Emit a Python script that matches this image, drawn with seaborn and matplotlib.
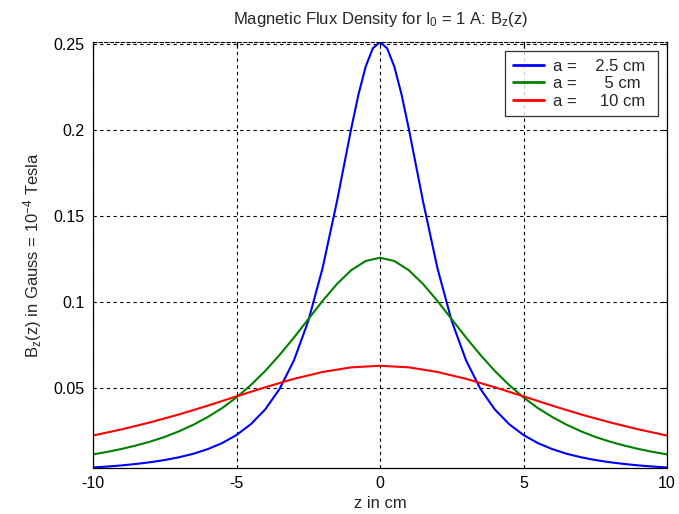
import matplotlib
matplotlib.use('Agg')
import matplotlib.pyplot as plt
import pandas as pd
import seaborn as sns

# Values (B_z in Gauss vs z in cm)
z_small = [-10, -9.5, -9, -8.5, -8, -7.5, -7, -6.5, -6, -5.5, -5, -4.5, -4, -3.5, -3, -2.5, -2,
           -1.5, -1.25, -1, -0.75, -0.5, -0.25, 0, 0.25, 0.5, 0.75, 1, 1.25, 1.5,
           2, 2.5, 3, 3.5, 4, 4.5, 5, 5.5, 6, 6.5, 7, 7.5, 8, 8.5, 9, 9.5, 10]
b_small = [0.00359, 0.00414, 0.00482, 0.00565, 0.00667, 0.00795, 0.00956, 0.0116, 0.0143, 0.0178,
           0.0225, 0.0288, 0.0374, 0.0493, 0.0659, 0.0888, 0.1197,
           0.1585, 0.1798, 0.2011, 0.2208, 0.2369, 0.2476, 0.2513, 0.2476, 0.2369, 0.2208, 0.2011, 0.1798, 0.1585,
           0.1197, 0.0888, 0.0659, 0.0493, 0.0374, 0.0288, 0.0225, 0.0178, 0.0143, 0.0116, 0.00956,
           0.00795, 0.00667, 0.00565, 0.00482, 0.00414, 0.00359]

z_mid = [-10, -9.5, -9, -8.5, -8, -7.5, -7, -6.5, -6, -5.5, -5, -4.5, -4, -3.5, -3, -2.5, -2, -1.5, -1, -0.5,
         0, 0.5, 1, 1.5, 2, 2.5, 3, 3.5, 4, 4.5, 5, 5.5, 6, 6.5, 7, 7.5, 8, 8.5, 9, 9.5, 10]
b_mid = [0.0112, 0.0127, 0.0144, 0.0164, 0.0187, 0.0214, 0.0247, 0.0285, 0.0330, 0.0382, 0.0444, 0.0516,
         0.0598, 0.0691, 0.0792, 0.0899, 0.1006, 0.1104, 0.1185, 0.1238,
         0.1257, 0.1238, 0.1185, 0.1104, 0.1006, 0.0899, 0.0792, 0.0691, 0.0598, 0.0516, 0.0444, 0.0382,
         0.0330, 0.0285, 0.0247, 0.0214, 0.0187, 0.0164, 0.0144, 0.0127, 0.0112]

z_big = [-10, -9, -8, -7, -6, -5, -4, -3, -2, -1, 0, 1, 2, 3, 4, 5, 6, 7, 8, 9, 10]
b_big = [0.0222, 0.0258, 0.0299, 0.0345, 0.0396, 0.0450, 0.0503, 0.0552, 0.0592, 0.0619, 0.0628,
         0.0619, 0.0592, 0.0552, 0.0503, 0.0450, 0.0396, 0.0345, 0.0299, 0.0258, 0.0222]

labels = ['a =    2.5 cm ', 'a =      5 cm ', 'a =     10 cm ']
colors = ['#0000ff', '#008000', '#ff0000']

df = pd.concat([
    pd.DataFrame({'z': z_small, 'B': b_small, 'radius': labels[0]}),
    pd.DataFrame({'z': z_mid, 'B': b_mid, 'radius': labels[1]}),
    pd.DataFrame({'z': z_big, 'B': b_big, 'radius': labels[2]}),
])

sns.set_style('white')
plt.rcParams['font.family'] = ['Liberation Sans', 'DejaVu Sans']
plt.rcParams['mathtext.fontset'] = 'custom'
plt.rcParams['mathtext.rm'] = 'Liberation Sans'
plt.rcParams['mathtext.it'] = 'Liberation Sans'
plt.rcParams['axes.unicode_minus'] = False

fig = plt.figure(figsize=(6.79, 5.14), dpi=100)
ax = fig.add_axes([93/679, 1 - 467.5/514, 574/679, 425.5/514])

sns.lineplot(data=df, x='z', y='B', hue='radius', hue_order=labels, palette=colors,
             sort=False, estimator=None, linewidth=1.5, ax=ax)

ax.set_xlim(-10, 10)
ax.set_ylim(0.00359, 0.2513)
ax.set_xticks([-10, -5, 0, 5, 10])
ax.set_yticks([0.05, 0.1, 0.15, 0.2, 0.25])
ax.set_yticklabels(['0.05', '0.1', '0.15', '0.2', '0.25'])
ax.tick_params(direction='in', length=4, top=True, right=True, labelsize=11.5, colors='black',
               width=0.8, pad=6)
ax.grid(True, color='black', linestyle=(0, (3, 3)), linewidth=0.8)
for side in ['left', 'bottom', 'right']:
    ax.spines[side].set_color('black')
    ax.spines[side].set_linewidth(0.9)
ax.spines['top'].set_linestyle((0, (3, 2)))
ax.spines['top'].set_color('black')

ax.set_title(r'Magnetic Flux Density for I$_0$ = 1 A: B$_z$(z)', fontsize=12, pad=13)
ax.set_xlabel('z in cm', fontsize=12, labelpad=4)
ax.set_ylabel(r'B$_z$(z) in Gauss = 10$^{-4}$ Tesla', fontsize=12, labelpad=7)

leg = ax.legend(loc='upper right', fontsize=12, frameon=True, fancybox=False,
                edgecolor='black', handlelength=1.9, handletextpad=0.55,
                borderaxespad=0.55, labelspacing=0.15, borderpad=0.45)
leg.get_frame().set_linewidth(0.9)
for line in leg.get_lines():
    line.set_linewidth(2)

fig.savefig('out.png', dpi=100, facecolor='white')
